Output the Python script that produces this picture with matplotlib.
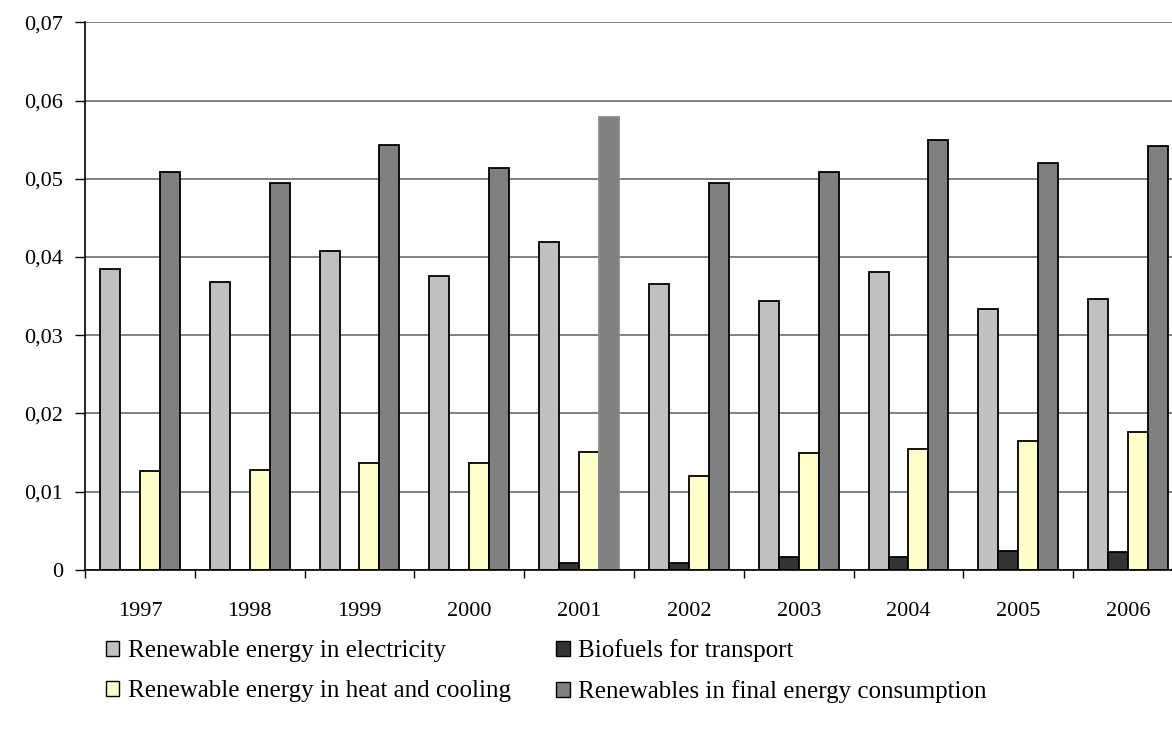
import numpy as np
import matplotlib.pyplot as plt
from matplotlib.patches import Patch
from matplotlib.ticker import FixedLocator, FuncFormatter

plt.rcParams['font.family'] = ['Liberation Serif', 'DejaVu Serif']

years = ['1997', '1998', '1999', '2000', '2001', '2002', '2003', '2004', '2005', '2006']
electricity = [0.0384, 0.0368, 0.0407, 0.0376, 0.0419, 0.0365, 0.0343, 0.0381, 0.0333, 0.0346]
biofuels = [0.0, 0.0, 0.0, 0.0, 0.0008, 0.0008, 0.0016, 0.0016, 0.0024, 0.0023]
heat_cooling = [0.0126, 0.0128, 0.0136, 0.0136, 0.0151, 0.0120, 0.0149, 0.0154, 0.0164, 0.0176]
final_consumption = [0.0509, 0.0494, 0.0543, 0.0514, 0.0579, 0.0494, 0.0509, 0.0550, 0.0520, 0.0542]

series = [
    ('Renewable energy in electricity', electricity, '#C0C0C0'),
    ('Biofuels for transport', biofuels, '#333333'),
    ('Renewable energy in heat and cooling', heat_cooling, '#FFFFCC'),
    ('Renewables in final energy consumption', final_consumption, '#808080'),
]

fig = plt.figure(figsize=(11.72, 7.31), dpi=100)
ax = fig.add_axes([85 / 1172, 161.3 / 731, 1098 / 1172, 547.4 / 731])

x = np.arange(len(years))
w = 0.182
for k, (name, vals, col) in enumerate(series):
    bars = ax.bar(x + (k - 1.5) * w, vals, w, color=col, edgecolor='black',
                  linewidth=1.3, zorder=3)
    if k == 3:
        # the 2001 bar is drawn with a grey outline
        bars[4].set_edgecolor('#8a8a8a')

ax.set_xlim(-0.5, len(years) - 0.5)
ax.set_ylim(0, 0.07)
ax.set_yticks(np.arange(0, 0.0701, 0.01))
ax.yaxis.set_major_formatter(FuncFormatter(
    lambda v, p: '0' if abs(v) < 1e-9 else f'{v:.2f}'.replace('.', ',')))
ax.grid(axis='y', color='#808080', linewidth=1.4, zorder=0)

ax.set_xticks(x)
ax.set_xticklabels(years)
ax.xaxis.set_minor_locator(FixedLocator(np.arange(-0.5, len(years), 1.0)))
ax.tick_params(axis='x', which='major', length=0, pad=23, labelsize=16)
ax.tick_params(axis='x', which='minor', length=6, width=1, color='black')
ax.tick_params(axis='y', length=7, width=1, pad=9, labelsize=16)

for s in ('top', 'right'):
    ax.spines[s].set_visible(False)
for s in ('left', 'bottom'):
    ax.spines[s].set_linewidth(1.2)
    ax.spines[s].set_zorder(4)

# legend is filled column by column, so order handles to read row by row
order = [0, 2, 1, 3]
handles = [Patch(facecolor=series[i][2], edgecolor='black', linewidth=1.0, label=series[i][0])
           for i in order]
fig.legend(handles=handles, loc='upper left', bbox_to_anchor=(83 / 1172, 1 - 617 / 731),
           ncol=2, frameon=False, fontsize=18, handlelength=0.55, handleheight=0.55,
           handletextpad=0.35, columnspacing=1.8, labelspacing=0.7)

fig.savefig('out.png', dpi=100)
